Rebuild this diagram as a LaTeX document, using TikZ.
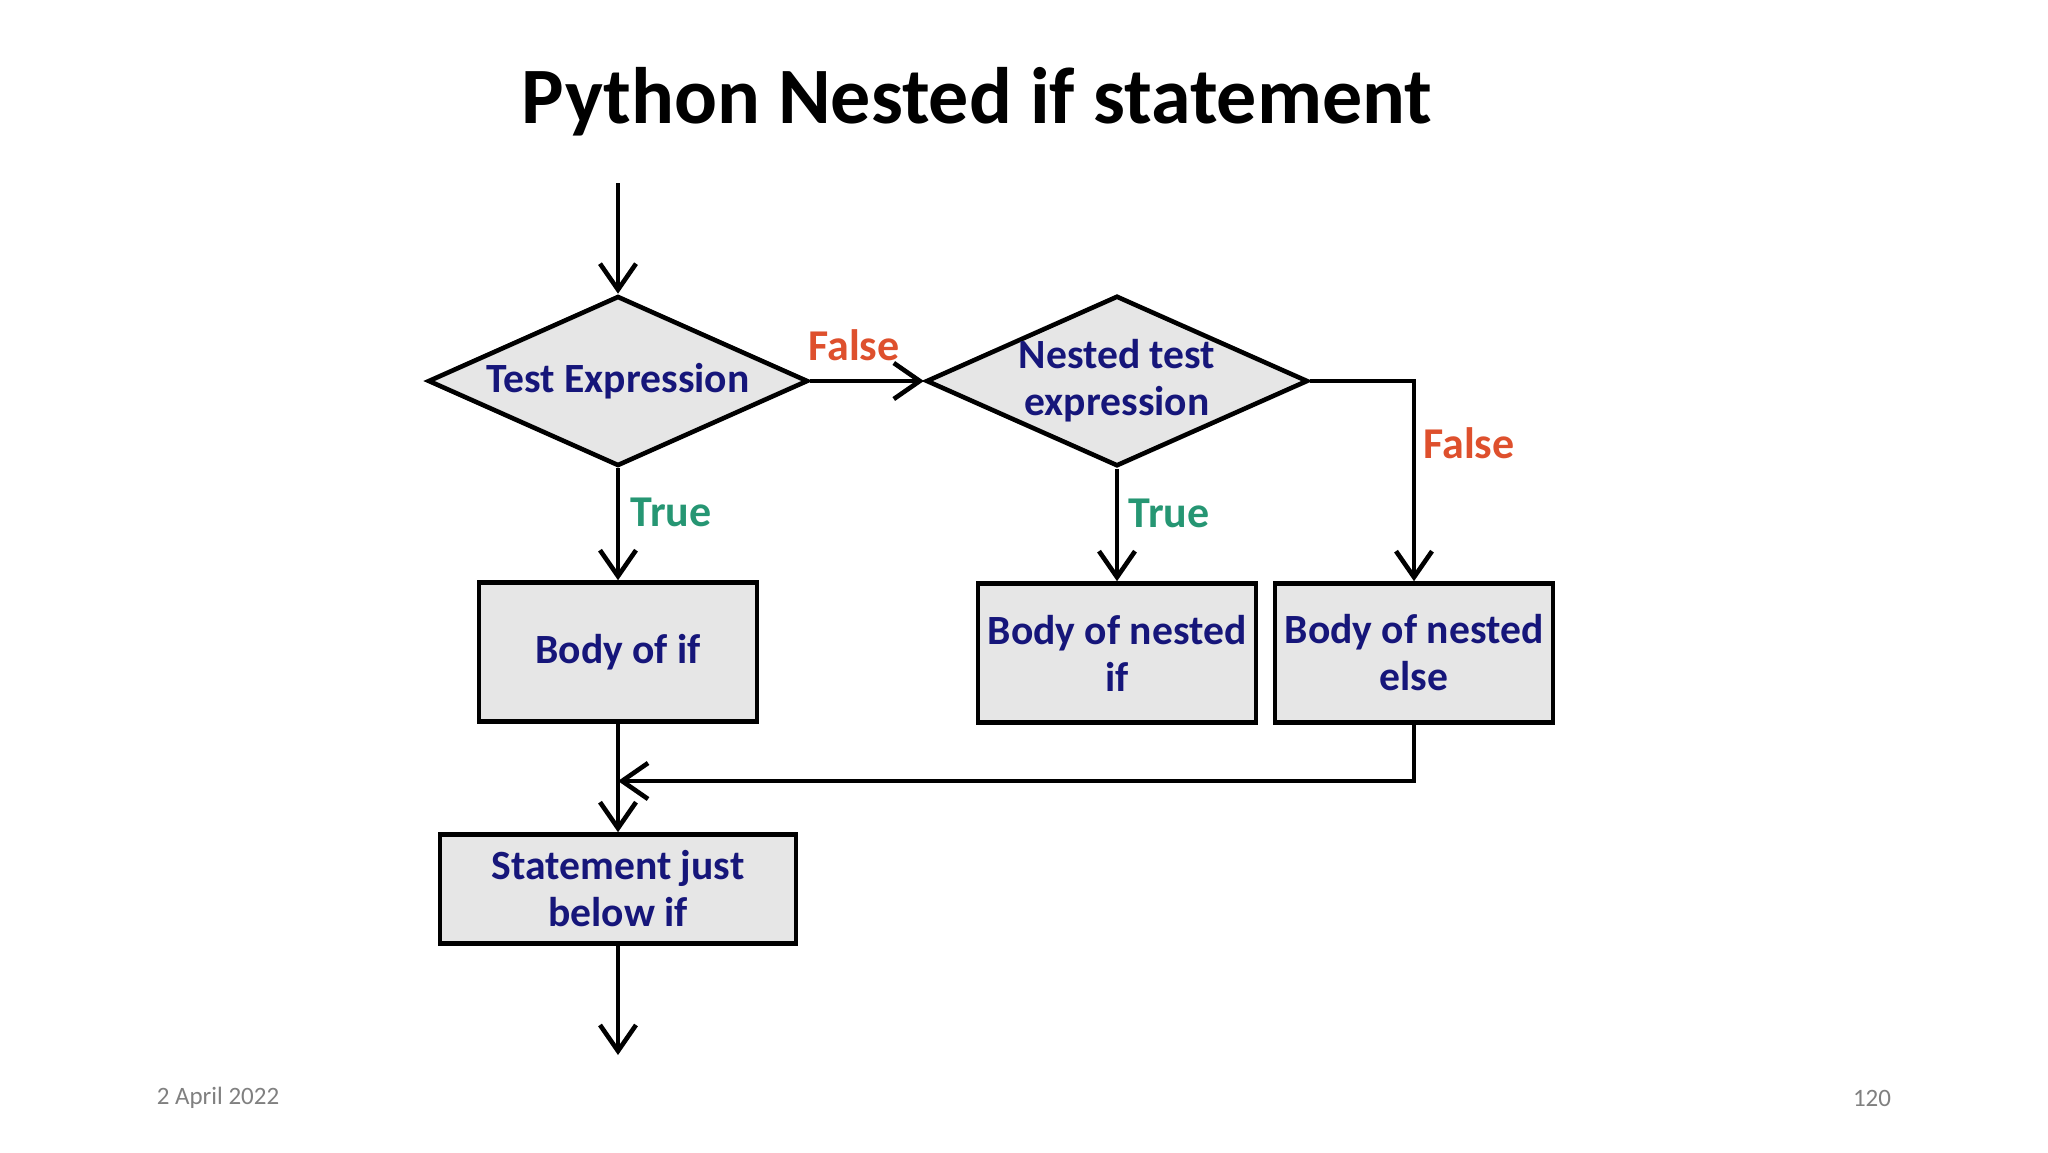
\documentclass[tikz,border=0pt]{standalone}
\usepackage{fontspec}
\setmainfont{Carlito}
\usetikzlibrary{shapes.geometric,arrows.meta}
\definecolor{navy}{RGB}{22,22,122}
\definecolor{falsec}{RGB}{222,80,45}
\definecolor{truec}{RGB}{38,150,115}
\definecolor{boxfill}{RGB}{230,230,230}
\definecolor{footgray}{RGB}{128,128,128}
\begin{document}
\begin{tikzpicture}[x=0.5pt,y=-0.5pt,
 flow/.style={draw=black,line width=2.3pt,fill=boxfill,font=\bfseries\fontsize{20.8}{23.5}\selectfont,text=navy,align=center,inner sep=0pt},
 dec/.style={flow,diamond,aspect=2.24,minimum width=190pt,minimum height=85pt},
 blk/.style={flow,rectangle,minimum width=139pt,minimum height=69.5pt},
 conn/.style={line width=2.3pt,-{Straight Barb[length=13pt,width=18pt]}},
 lbl/.style={font=\bfseries\fontsize{22}{26}\selectfont}]
\useasboundingbox (0,0) rectangle (2048,1152);
\node[font=\bfseries\fontsize{40}{48}\selectfont] (title) at (977,102) {Python Nested if statement};
\coordinate (start) at (618,183);
\node[dec] (d1) at (618,381) {Test Expression};
\node[dec] (d2) at (1117,381) {Nested test\\expression};
\node[blk] (b1) at (618,652) {Body of if};
\node[blk] (b2) at (1117,653) {Body of nested\\if};
\node[blk] (b3) at (1414,653) {Body of nested\\else};
\node[blk,minimum width=178pt,minimum height=54.5pt] (b4) at (618,889) {Statement just\\below if};
\coordinate (merge) at (618,781);
\coordinate (end) at (618,1055);
\draw[conn] (start) -- (d1.north);
\draw[conn] (d1.east) -- (d2.west);
\draw[conn] (d2.east) -| (b3.north);
\draw[conn] (d1.south) -- (b1.north);
\draw[conn] (d2.south) -- (b2.north);
\draw[conn] (b1.south) -- (b4.north);
\draw[conn] (b3.south) |- (merge);
\draw[conn] (b4.south) -- (end);
\node[lbl,text=falsec] (f1) at (854,345) {False};
\node[lbl,text=falsec] (f2) at (1469,443) {False};
\node[lbl,text=truec] (t1) at (671,512) {True};
\node[lbl,text=truec] (t2) at (1169,513) {True};
\node[text=footgray,font=\fontsize{12.5}{15}\selectfont] (date) at (218,1098) {2 April 2022};
\node[text=footgray,font=\fontsize{12.5}{15}\selectfont] (page) at (1872,1098) {120};
\end{tikzpicture}
\end{document}
